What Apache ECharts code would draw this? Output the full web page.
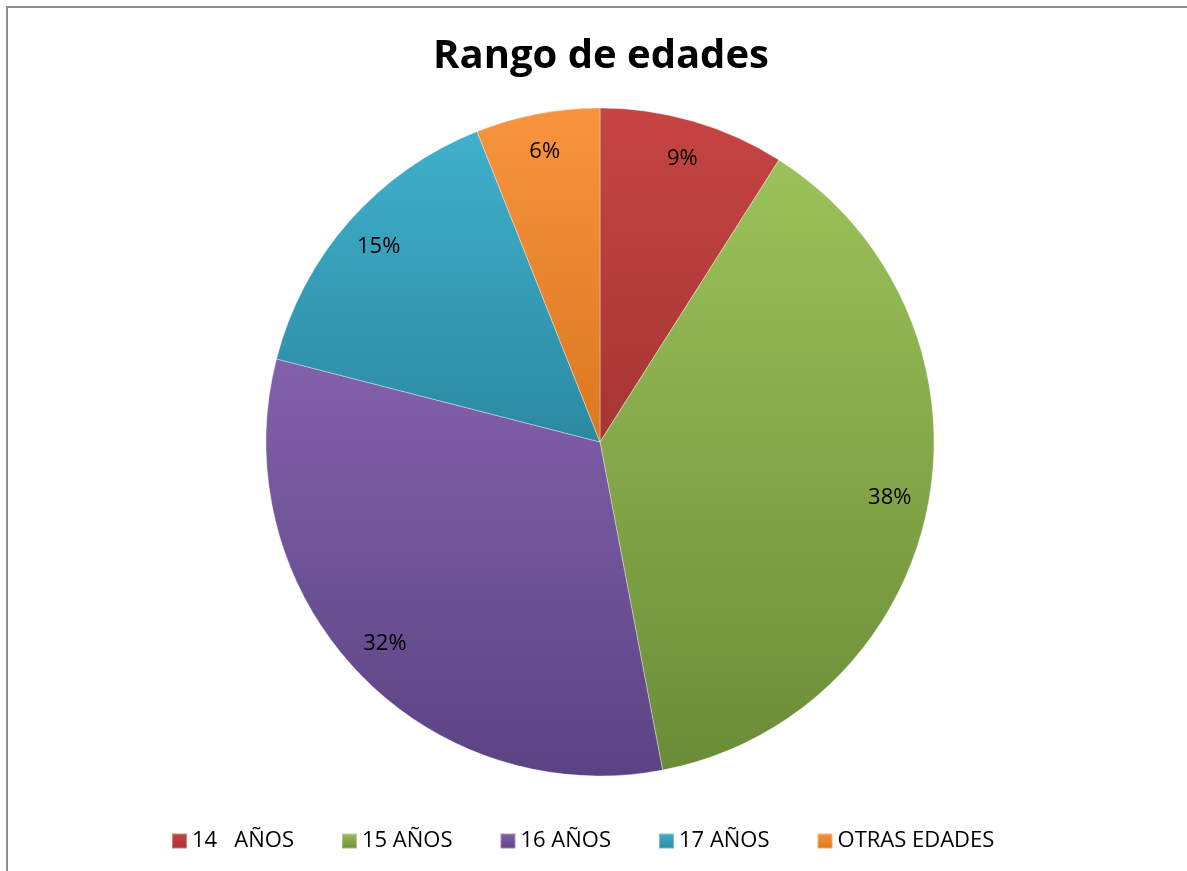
<!DOCTYPE html>
<html>
<head>
<meta charset="utf-8">
<script src="https://cdn.jsdelivr.net/npm/echarts@6/dist/echarts.min.js"></script>
<style>
  html, body { margin: 0; padding: 0; background: #ffffff; }
  #wrap { position: relative; width: 1187px; height: 871px; }
  #chart { width: 1187px; height: 871px; }
  .frame {
    position: absolute;
    left: 6px;
    top: 6px;
    right: -4px;
    bottom: -4px;
    border-left: 2px solid #8e8e8e;
    border-top: 2px solid #8e8e8e;
    pointer-events: none;
  }
</style>
</head>
<body>
<div id="wrap">
  <div id="chart"></div>
  <div class="frame"></div>
</div>
<script>
// datos
const categories = ["14   AÑOS", "15 AÑOS", "16 AÑOS", "17 AÑOS", "OTRAS EDADES"]
const values = [9, 38, 32, 15, 6]
const topColors = ["#c64543", "#9cc25a", "#8261ab", "#41b0cb", "#f8943d"]
const bottomColors = ["#a53533", "#6b8c37", "#5b4383", "#2b89a2", "#da771f"]

const fontFamily = "'Open Sans', 'Noto Sans', sans-serif"

function shade(i) {
  return new echarts.graphic.LinearGradient(0, 0, 0, 1, [
    { offset: 0, color: topColors[i] },
    { offset: 1, color: bottomColors[i] }
  ])
}

const pieData = categories.map((name, i) => ({
  name,
  value: values[i],
  itemStyle: { color: shade(i) }
}))

// serie invisible solo para colocar las etiquetas cerca del borde
const labelData = categories.map((name, i) => ({ name, value: values[i] }))

const chart = echarts.init(document.getElementById("chart"))
chart.setOption({
  backgroundColor: "#ffffff",
  animation: false,
  title: {
    text: "Rango de edades",
    left: 596,
    top: 32,
    textAlign: "center",
    textStyle: {
      fontFamily,
      fontWeight: "bold",
      fontSize: 40,
      color: "#000000"
    }
  },
  legend: {
    data: categories,
    bottom: 14,
    left: 166,
    icon: "rect",
    itemWidth: 15,
    itemHeight: 15,
    itemGap: 47,
    textStyle: {
      fontFamily,
      fontSize: 22,
      color: "#000000"
    }
  },
  series: [
    {
      type: "pie",
      center: [600, 442],
      radius: 334,
      startAngle: 90,
      clockwise: true,
      label: { show: false },
      labelLine: { show: false },
      emphasis: { disabled: true },
      itemStyle: {
        borderColor: "rgba(255,255,255,0.35)",
        borderWidth: 1
      },
      data: pieData
    },
    {
      type: "pie",
      center: [600, 442],
      radius: [0, 584],
      startAngle: 90,
      clockwise: true,
      silent: true,
      emphasis: { disabled: true },
      itemStyle: { color: "rgba(0,0,0,0)", borderWidth: 0 },
      label: {
        show: true,
        position: "inside",
        formatter: "{d}%",
        fontFamily,
        fontSize: 22,
        color: "#000000"
      },
      labelLine: { show: false },
      data: labelData
    }
  ]
})
</script>
</body>
</html>
